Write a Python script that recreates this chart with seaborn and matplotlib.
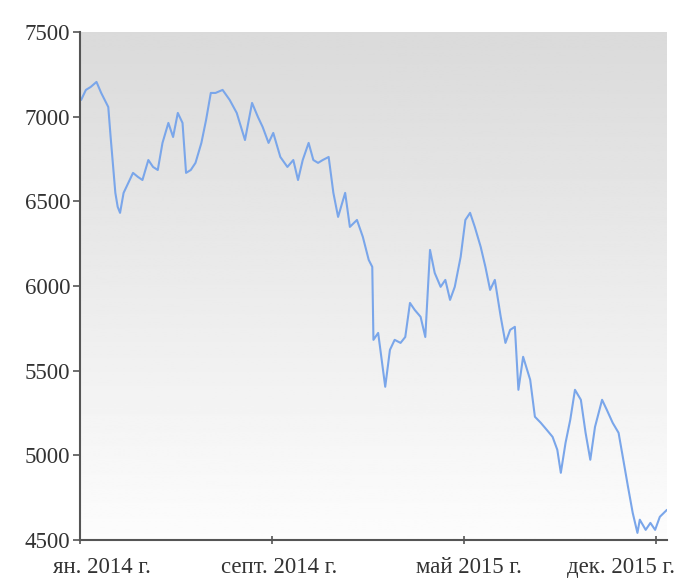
import numpy as np
import pandas as pd
import seaborn as sns
from matplotlib import pyplot as plt
from matplotlib import transforms

# индекс на търговския ден и стойност на индекса
den = [1, 5, 9, 14, 18, 24, 26, 30, 32, 34, 37, 41, 45, 49, 53, 58, 62, 66, 70, 75,
       79, 83, 87, 90, 94, 98, 103, 107, 111, 115, 121, 127, 133, 140, 146, 151, 155, 160, 164, 170,
       176, 181, 185, 189, 194, 198, 202, 206, 211, 215, 219, 225, 229, 235, 240, 245, 248, 249, 253, 259,
       263, 267, 272, 276, 280, 284, 289, 293, 297, 301, 306, 310, 314, 318, 323, 327, 331, 335, 340, 344,
       348, 352, 357, 361, 365, 369, 372, 376, 382, 386, 391, 396, 401, 405, 408, 412, 416, 420, 425, 429,
       433, 437, 443, 447, 452, 457, 461, 465, 469, 473, 475, 480, 484, 488, 492, 498]
stoinost = [7099, 7158, 7175, 7205, 7140, 7057, 6880, 6550, 6467, 6432, 6550, 6609, 6668, 6645, 6626, 6744, 6703, 6685, 6845, 6963,
            6880, 7022, 6963, 6668, 6685, 6727, 6845, 6981, 7140, 7140, 7158, 7099, 7022, 6862, 7081, 6998, 6939, 6845, 6904, 6762,
            6703, 6744, 6626, 6744, 6845, 6744, 6727, 6744, 6762, 6550, 6408, 6550, 6349, 6390, 6290, 6154, 6113, 5682, 5723, 5405,
            5623, 5682, 5664, 5699, 5900, 5859, 5818, 5699, 6213, 6077, 5995, 6036, 5918, 5995, 6172, 6390, 6432, 6349, 6231, 6113,
            5977, 6036, 5818, 5664, 5741, 5759, 5387, 5582, 5446, 5228, 5192, 5151, 5109, 5033, 4897, 5074, 5210, 5387, 5328, 5133,
            4974, 5168, 5328, 5269, 5192, 5133, 4974, 4814, 4660, 4542, 4620, 4560, 4601, 4560, 4637, 4678]

tick_den = [0, 163, 326, 489]
tick_etiketi = ['ян. 2014 г.', 'септ. 2014 г.', 'май 2015 г.', 'дек. 2015 г.']
y_ticks = [4500, 5000, 5500, 6000, 6500, 7000, 7500]

df = pd.DataFrame({'den': den, 'stoinost': stoinost})

sns.set_style('white')
plt.rcParams['font.family'] = ['Liberation Serif', 'DejaVu Serif']

fig = plt.figure(figsize=(6.75, 5.88), dpi=100)
ax = fig.add_axes([0.1185, 0.0816, 0.8695, 0.864])

# сив градиент на фона (тъмно горе, светло долу)
grad = np.linspace(0.855, 0.99, 256).reshape(-1, 1)
ax.imshow(grad, cmap='gray', vmin=0, vmax=1, aspect='auto', origin='upper',
          extent=[0, 498, 4500, 7500], zorder=0)

sns.lineplot(data=df, x='den', y='stoinost', color='#7aa6ea', linewidth=1.5, ax=ax, zorder=2)

ax.set_xlim(0, 498)
ax.set_ylim(4500, 7500)
ax.set_xticks(tick_den)
ax.set_xticklabels(tick_etiketi)
ax.set_yticks(y_ticks)
ax.set_xlabel('')
ax.set_ylabel('')

for s in ['top', 'right']:
    ax.spines[s].set_visible(False)
for s in ['left', 'bottom']:
    ax.spines[s].set_color('#555555')
    ax.spines[s].set_linewidth(1.5)

ax.tick_params(axis='y', direction='out', length=5, width=1.2, color='#555555',
               labelsize=16.5, labelcolor='#333333', pad=2, left=True)
ax.tick_params(axis='x', direction='inout', length=6, width=1.2, color='#555555',
               labelsize=16.5, labelcolor='#333333', pad=9, bottom=True)

# етикетите по X са изместени така, че да се побират във фигурата
labels = ax.get_xticklabels()
labels[0].set_horizontalalignment('left')
labels[-1].set_horizontalalignment('right')
shifts = [-27, 7, 5, 19]
for lab, dx in zip(labels, shifts):
    lab.set_transform(lab.get_transform() + transforms.ScaledTranslation(dx / 100, 0, fig.dpi_scale_trans))

plt.savefig('out.png', dpi=100)
